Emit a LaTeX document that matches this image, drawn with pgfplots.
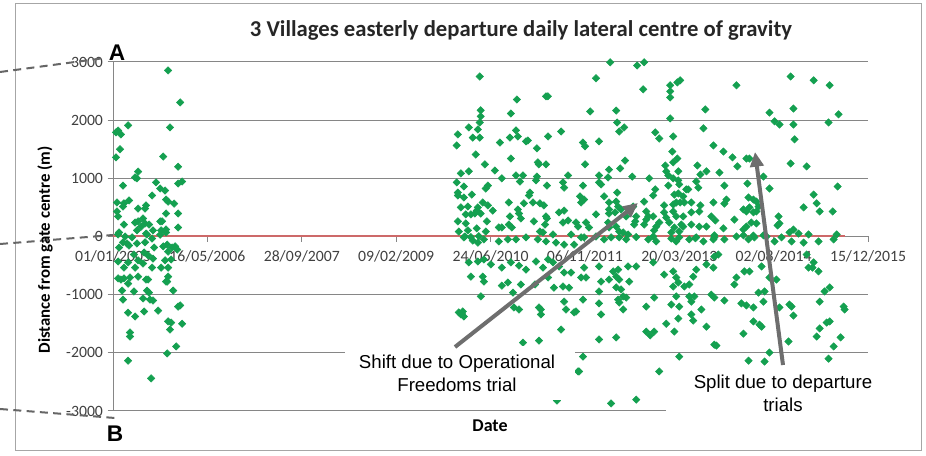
\documentclass[border=0pt]{standalone}
\usepackage{pgfplots}
\pgfplotsset{compat=1.18}
\usepackage{fontspec}
\setmainfont{Carlito}
\newfontfamily\arial{Liberation Sans}
\usetikzlibrary{arrows.meta}
\definecolor{mkgreen}{RGB}{20,160,80}
\definecolor{trend}{RGB}{205,105,105}
\definecolor{gridgray}{RGB}{134,134,134}
\definecolor{arrowgray}{RGB}{110,110,110}
\definecolor{labgray}{RGB}{64,64,64}
\begin{document}
\begin{tikzpicture}[x=0.75pt,y=0.75pt]
\useasboundingbox (0,0) rectangle (926,456);
\fill[white] (0,0) rectangle (926,456);
\draw[gray!70, line width=0.75pt] (15,5) rectangle (921,452);
\begin{axis}[
  at={(84.75pt,33.75pt)}, anchor=south west,
  scale only axis, width=566.25pt, height=261.75pt,
  xmin=0, xmax=4000, ymin=-3000, ymax=3000,
  axis x line=middle, axis y line=left,
  axis line style={-, draw=gridgray, line width=0.75pt},
  hide obscured x ticks=false, hide obscured y ticks=false,
  xtick={0,500,...,4000},
  xticklabels={01/01/2005,16/05/2006,28/09/2007,09/02/2009,24/06/2010,06/11/2011,20/03/2013,02/08/2014,15/12/2015},
  ytick={-3000,-2000,...,3000},
  yticklabels={-3000,-2000,-1000,0,1000,2000,3000},
  tick align=outside,
  major tick length=4pt,
  tick style={draw=gridgray, line width=0.75pt},
  ymajorgrids, grid style={draw=gridgray, line width=0.75pt},
  ticklabel style={font=\fontsize{11.8}{13}\selectfont, text=labgray},
  xticklabel style={yshift=-3pt},
  clip=false,
]
\addplot[only marks, mark=square*, mark size=1.95pt, mark options={rotate=45, fill=mkgreen, draw=none}, color=mkgreen] coordinates {
(292,2855) (356,2305) (302,1875) (16,1790) (27,1820) (42,1755) (80,1910) (37,1500) (16,1360) (266,1375)
(345,1200) (366,945) (345,910) (133,1115) (117,1015) (127,1000) (228,930) (53,875) (250,825) (276,790)
(207,705) (21,585) (58,570) (85,620) (53,515) (133,480) (175,535) (170,480) (281,635) (292,600)
(324,565) (21,430) (27,345) (281,395) (345,395) (117,240) (133,260) (159,310) (170,225) (191,205)
(149,170) (250,260) (260,260) (58,205) (212,105) (345,155) (32,70) (127,105) (175,50) (255,105)
(281,120) (27,35) (64,0) (101,-15) (180,35) (250,30) (281,70) (32,-190) (53,-100) (74,-120)
(85,-155) (127,-120) (170,-100) (207,-35) (218,-190) (266,-170) (287,-140) (292,-260) (313,-190) (329,-170)
(340,-225) (111,-310) (165,-275) (186,-325) (27,-430) (80,-445) (133,-410) (159,-465) (212,-380) (276,-410)
(308,-395) (58,-535) (117,-535) (207,-535) (255,-535) (292,-535) (133,-690) (175,-740) (186,-740) (27,-720)
(42,-740) (58,-720) (90,-705) (292,-690) (287,-775) (281,-775) (80,-810) (48,-930) (111,-945) (180,-930)
(191,-965) (319,-930) (53,-1085) (159,-1065) (196,-1085) (212,-1100) (80,-1310) (165,-1290) (239,-1275) (117,-1375)
(356,-1185) (345,-1205) (292,-1460) (308,-1480) (366,-1500) (302,-1600) (90,-1650) (90,-1720) (335,-1890) (287,-2010)
(80,-2135) (202,-2440)
(1943,2750) (2140,2355) (2294,2410) (2304,2410) (1948,2170) (1948,2065) (1943,1960) (2108,2115) (1933,1840) (1885,1875)
(1827,1755) (1821,1565) (1906,1700) (1943,1700) (2135,1825) (2145,1720) (2103,1700) (2050,1615) (2198,1650) (2188,1635)
(2305,1720) (2374,1805) (1922,1410) (2108,1340) (2246,1515) (2251,1275) (2256,1240) (2294,1240) (1970,1240) (1843,1085)
(1885,1120) (2023,1135) (2060,1000) (2135,1050) (2172,1050) (2156,945) (2246,1030) (2241,965) (2411,1050) (2384,930)
(2390,840) (1821,930) (1827,755) (1827,705) (1859,860) (1986,875) (1975,825) (1901,720) (2299,875) (2209,755)
(2204,705) (1859,670) (1959,585) (1986,535) (2097,585) (2225,585) (2262,570) (2283,535) (1843,500) (1880,515)
(1933,500) (1927,445) (2012,445) (2145,465) (2177,570) (1869,380) (1896,380) (1917,395) (1948,395) (2151,395)
(2161,310) (2103,345) (2294,345) (2299,310) (2363,415) (2390,445) (1827,260) (1869,225) (1981,260) (2230,260)
(2289,205) (2384,240) (2411,275) (2044,155) (2060,155) (2097,205) (2113,155) (1832,85) (1880,105) (1927,140)
(1975,85) (2262,85) (2278,70) (2331,35) (2427,35) (1864,0) (1896,-10) (1938,5)
(1859,-15) (1906,-70) (1933,-105) (1965,-50) (2044,-85) (2092,-50) (2135,-50) (2188,-15) (2251,-50) (2294,-85)
(2347,-105) (2390,-140) (2443,-140)
(1885,-445) (1933,-430) (1965,-395) (2002,-480) (2060,-535) (2108,-445) (2151,-500) (2188,-570) (2241,-430) (2278,-535)
(2305,-395) (2331,-445) (2363,-515) (2390,-620) (2427,-620)
(1896,-690) (1959,-690) (1965,-775) (2060,-845) (2092,-790) (2119,-965) (2161,-825) (2236,-825) (2305,-705) (2336,-880)
(2384,-860) (2416,-880) (1949,-1030)
(2124,-1220) (2151,-1255) (2257,-1220) (2267,-1255) (2267,-1340) (2390,-1120) (2400,-1255) (2443,-1305)
(1843,-1340) (1832,-1305) (1859,-1375) (1853,-1290) (1848,-1330)
(2374,-1600) (2172,-1825) (2257,-1790) (2352,-2820) (2464,-2320)
(2634,2995) (2777,2940) (2814,2995) (2559,2720) (2809,2530) (2952,2600) (2952,2495) (2952,2390) (2990,2650) (3005,2685)
(2528,2150) (2666,2165) (3138,2185) (2952,2030) (2671,1960) (2682,1805) (2708,1875) (2873,1790) (2894,1685) (2968,1720)
(3128,1860) (2490,1615) (2501,1550) (2575,1635) (2963,1460) (3181,1565) (2713,1305) (2968,1275) (2990,1340) (2501,1240)
(2628,1150) (2687,1170) (2926,1220) (2931,1120) (2942,1050) (3096,1220) (3112,1065) (2995,1120) (2575,1050) (2623,1015)
(2751,1030) (2841,1000) (2968,1000) (2995,965) (3144,1120) (2490,875) (2575,930) (2586,895) (2873,810) (2862,705)
(2942,875) (3000,895) (3037,810) (3090,945) (3101,840) (2474,690) (2496,635) (2480,585) (2602,690) (2671,755)
(2628,585) (2666,600) (2676,515) (2814,600) (2974,720) (2995,740) (3021,690) (3048,810) (2920,535) (2968,550)
(2984,585) (3005,585) (3027,585) (3064,585) (3112,535) (3181,585) (2559,380) (2628,465) (2628,395) (2660,415)
(2692,465) (2719,345) (2756,515) (2772,345) (2825,430) (2836,345) (2862,345) (2920,415) (2931,325) (2968,430)
(2984,345) (3021,345) (3064,415) (3106,430) (3170,345) (2453,240) (2464,170) (2506,240) (2522,155) (2623,240)
(2628,155) (2666,170) (2767,260) (2761,205) (2814,205) (2825,290) (2878,170) (2894,240) (2947,240) (2974,155)
(3011,205) (3021,170) (3064,205) (3106,170) (3144,170) (2682,85) (2703,70) (2729,35) (2867,105) (2958,70)
(3000,85) (2480,-15) (2639,-15) (2772,-10) (2862,0) (3000,-15) (3090,-15)
(2496,-15) (2559,0) (2602,-50) (2682,-15) (2719,-50) (2836,-50) (2878,-85) (2958,-35) (2984,-85) (3053,-50)
(3085,-30) (3128,-85) (3181,-50)
(2496,-535) (2575,-515) (2506,-705) (2480,-705) (2586,-775) (2628,-740) (2650,-600) (2666,-690) (2682,-740) (2676,-570)
(2729,-515) (2772,-515) (2862,-445) (2920,-655) (2968,-600) (2984,-705) (2995,-790) (2968,-860) (3027,-860) (3053,-825)
(3074,-690) (3090,-570) (3144,-480) (3181,-535)
(2490,-1085) (2575,-945) (2666,-875) (2692,-910) (2703,-1030) (2676,-1085) (2682,-1135) (2719,-1050) (2735,-775) (2825,-1205)
(2867,-1050) (2958,-1170) (2984,-1030) (3000,-1205) (3053,-1030) (3064,-1120) (3080,-1030) (3117,-1255)
(2453,-1290) (2575,-1150) (2586,-1340) (2703,-1255) (3064,-1340) (3074,-1445) (2995,-1410) (2931,-1500) (2974,-1635) (3144,-1550)
(2825,-1635) (2846,-1700) (2867,-1635) (2575,-1770) (2666,-1735) (3186,-1860) (2490,-2065) (3000,-2065) (2469,-2320) (2894,-2320)
(2639,-2870) (2772,-2805)
(3303,2600) (3590,2750) (3712,2685) (3797,2600) (3605,2200) (3478,2130) (3505,1980) (3531,1925) (3605,1925) (3791,1960)
(3844,2100) (3611,1670) (3234,1460) (3282,1360) (3308,1205) (3356,1340) (3372,1340) (3590,1255) (3675,1205) (3213,1100)
(3446,1030) (3239,875) (3361,910) (3478,825) (3839,860) (3712,720) (3250,635) (3239,565) (3367,670) (3393,635)
(3409,600) (3340,465) (3356,430) (3372,500) (3393,415) (3409,430) (3420,515) (3659,500) (3728,570) (3744,430)
(3813,430) (3191,275) (3234,140) (3292,290) (3340,120) (3356,170) (3382,240) (3409,225) (3526,345) (3531,225)
(3521,190) (3584,70) (3605,120) (3632,50) (3685,35) (3834,35) (3186,20) (3340,20) (3393,15) (3446,20)
(3186,-15) (3239,-50) (3303,0) (3367,-50) (3398,-15) (3462,0) (3505,-85) (3542,-15) (3595,-85) (3659,-105)
(3738,-85) (3818,-50) (3186,-345) (3207,-310) (3675,-310) (3712,-445) (3706,-535) (3738,-600) (3685,-535) (3303,-705)
(3292,-825) (3345,-600) (3372,-600) (3436,-515) (3478,-705) (3515,-740) (3170,-1000) (3186,-1050) (3239,-1100) (3420,-965)
(3452,-945) (3446,-1120) (3329,-1150) (3356,-1185) (3393,-1220) (3531,-1220) (3584,-1170) (3595,-1205) (3605,-1360) (3744,-1120)
(3770,-945) (3797,-875) (3871,-1205) (3876,-1255) (3393,-1460) (3425,-1515) (3436,-1550) (3781,-1480) (3797,-1460) (3744,-1580)
(3728,-1720) (3340,-1670) (3579,-1805) (3197,-1875) (3855,-1735) (3478,-1995) (3367,-2135) (3452,-2150) (3791,-2100) (3818,-1890)
};
\addplot[trend, line width=1.6pt] coordinates {(0,10) (3876,10)};
\end{axis}
% leftover dashed lines
\draw[gray!80!black, line width=1.5pt, dash pattern=on 6pt off 4pt] (0,384) -- (105,398);
\draw[gray!80!black, line width=1.5pt, dash pattern=on 6pt off 4pt] (0,212) -- (113,221);
\draw[gray!80!black, line width=1.5pt, dash pattern=on 6pt off 4pt] (0,47) -- (115,38);
% white annotation boxes
\fill[white] (345,56) rectangle (575,110);
\fill[white] (666,11) rectangle (905,90);
% titles and labels
\node[font=\bfseries\fontsize{17}{20}\selectfont, text=black!85] at (521,426) {3 Villages easterly departure daily lateral centre of gravity};
\node[rotate=90, font=\bfseries\fontsize{12.6}{15}\selectfont] at (45,206) {Distance from gate centre (m)};
\node[font=\bfseries\fontsize{13.5}{15}\selectfont] at (490,30) {Date};
\node[font=\arial\bfseries\fontsize{17}{19}\selectfont] at (117,403) {A};
\node[font=\arial\bfseries\fontsize{17}{19}\selectfont] at (115,22) {B};
\node[font=\arial\fontsize{14}{17.25}\selectfont, align=center] at (457,82.5) {Shift due to Operational\\Freedoms trial};
\node[font=\arial\fontsize{14}{17.25}\selectfont, align=center] at (783,62.5) {Split due to departure\\trials};
% arrows
\draw[arrowgray, line width=3pt, -{Triangle[length=11pt,width=10pt]}] (455,109) -- (638,253);
\draw[arrowgray, line width=3pt, -{Triangle[length=11pt,width=10pt]}] (783,91) -- (755,304);
\end{tikzpicture}
\end{document}
